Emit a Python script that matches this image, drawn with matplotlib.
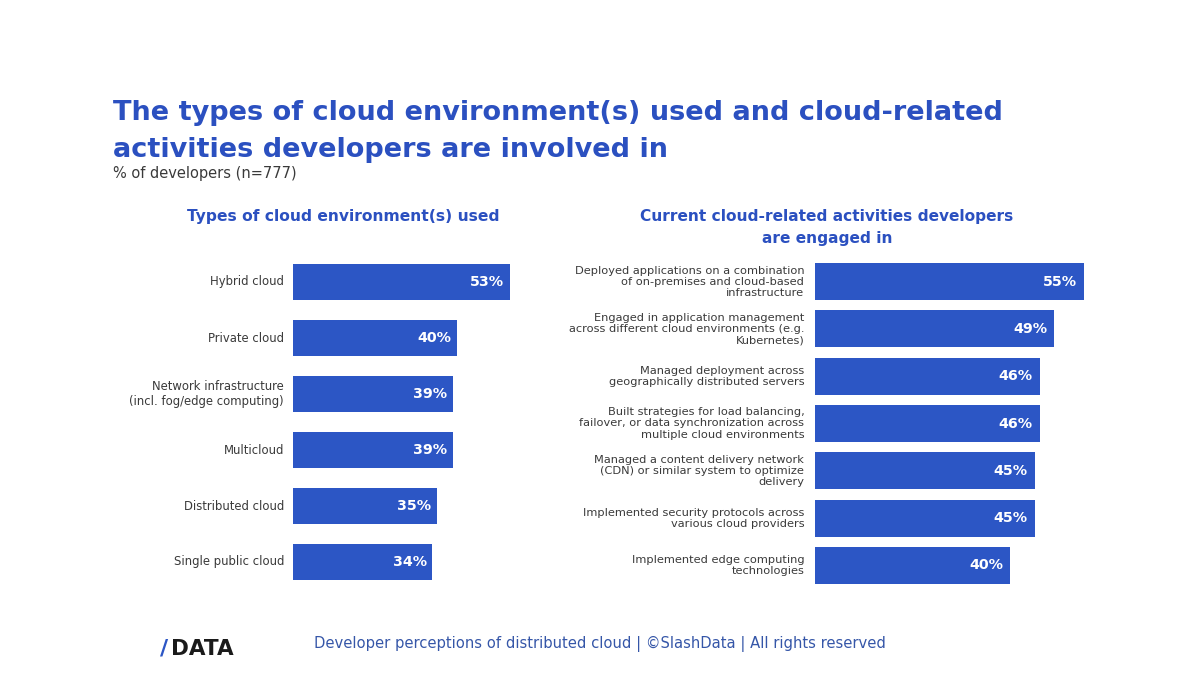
import matplotlib.pyplot as plt

# data
env_labels = ["Hybrid cloud", "Private cloud", "Network infrastructure\n(incl. fog/edge computing)",
              "Multicloud", "Distributed cloud", "Single public cloud"]
env_values = [53, 40, 39, 39, 35, 34]

act_labels = ["Deployed applications on a combination\nof on-premises and cloud-based\ninfrastructure",
              "Engaged in application management\nacross different cloud environments (e.g.\nKubernetes)",
              "Managed deployment across\ngeographically distributed servers",
              "Built strategies for load balancing,\nfailover, or data synchronization across\nmultiple cloud environments",
              "Managed a content delivery network\n(CDN) or similar system to optimize\ndelivery",
              "Implemented security protocols across\nvarious cloud providers",
              "Implemented edge computing\ntechnologies"]
act_values = [55, 49, 46, 46, 45, 45, 40]

BAR = "#2C56C5"
TITLE = "#2B50C0"
GREY = "#3a3a3a"
W, H = 1200, 675

plt.rcParams['font.family'] = ['DejaVu Sans']
fig = plt.figure(figsize=(12, 6.75), dpi=100)


def px_axes(left, top, width, height):
    return fig.add_axes([left / W, 1 - (top + height) / H, width / W, height / H])


def draw_bars(ax, labels, values, xmax, height, lab_size, lab_ls):
    ys = range(len(values))
    ax.barh(ys, values, height=height, color=BAR)
    ax.set_ylim(len(values) - 0.5, -0.5)
    ax.set_xlim(0, xmax)
    for y, v, lab in zip(ys, values, labels):
        ax.text(v - 1.4, y, f"{v}%", ha="right", va="center", color="white",
                fontsize=10.3, fontweight="bold")
        ax.text(-2.2, y, lab, ha="right", va="center", color=GREY, fontsize=lab_size,
                linespacing=lab_ls)
    ax.axis("off")


ax1 = px_axes(293, 254, 246, 336)
draw_bars(ax1, env_labels, env_values, 60, 0.66, 8.4, 1.16)

ax2 = px_axes(815, 258, 293, 331)
draw_bars(ax2, act_labels, act_values, 60, 0.78, 8.2, 1.14)

fig.text(113 / W, 1 - 120 / H, "The types of cloud environment(s) used and cloud-related",
         fontsize=19.5, fontweight="bold", color=TITLE, va="baseline")
fig.text(113 / W, 1 - 157 / H, "activities developers are involved in",
         fontsize=19.5, fontweight="bold", color=TITLE, va="baseline")
fig.text(113 / W, 1 - 178 / H, "% of developers (n=777)", fontsize=10.5, color=GREY)

fig.text(343 / W, 1 - 216 / H, "Types of cloud environment(s) used", ha="center", va="center",
         fontsize=11.2, fontweight="bold", color=TITLE)
fig.text(827 / W, 1 - 216 / H, "Current cloud-related activities developers",
         ha="center", va="center", fontsize=11.1, fontweight="bold", color=TITLE)
fig.text(827 / W, 1 - 239 / H, "are engaged in",
         ha="center", va="center", fontsize=11.1, fontweight="bold", color=TITLE)

fig.text(600 / W, 1 - 644 / H, "Developer perceptions of distributed cloud | \u00a9SlashData | All rights reserved",
         ha="center", va="center", fontsize=10.65, color="#3556A8")
fig.text(160 / W, 1 - 649 / H, "/", ha="left", va="center", fontsize=16, fontweight="bold", color=BAR)
fig.text(171 / W, 1 - 649 / H, "DATA", ha="left", va="center", fontsize=15.5, fontweight="bold", color="#1a1a1a")

fig.savefig("out.png", dpi=100, facecolor="white")
